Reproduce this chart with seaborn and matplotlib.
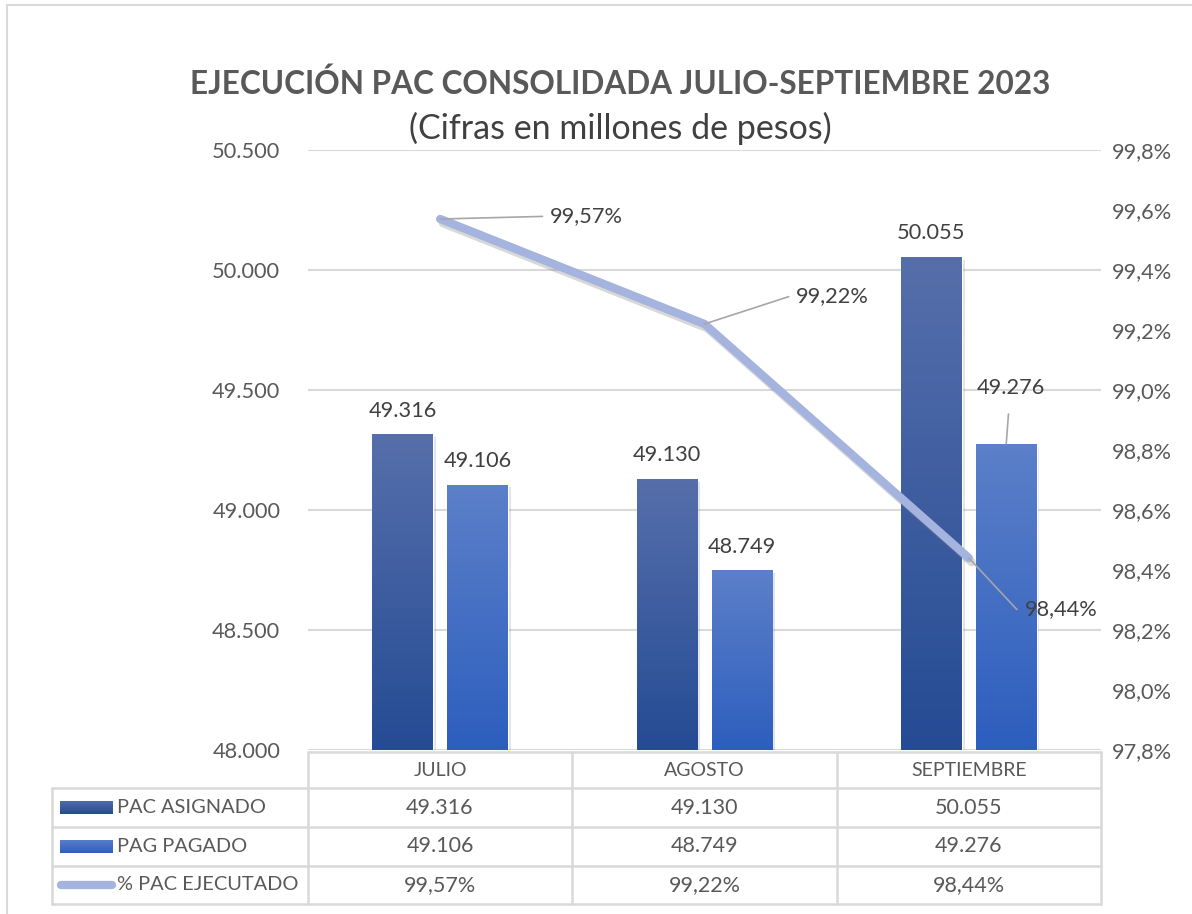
import numpy as np
import pandas as pd
import matplotlib
matplotlib.use("Agg")
import matplotlib.pyplot as plt
import matplotlib.patheffects as pe
from matplotlib.colors import LinearSegmentedColormap
from matplotlib.lines import Line2D
import seaborn as sns

# datos del grafico
meses = ["JULIO", "AGOSTO", "SEPTIEMBRE"]
series = ["PAC ASIGNADO", "PAG PAGADO"]
pac_asignado = [49316, 49130, 50055]
pag_pagado = [49106, 48749, 49276]
pct_ejecutado = [99.57, 99.22, 98.44]
ticks_izq = [48000, 48500, 49000, 49500, 50000, 50500]
ticks_der = [97.8, 98.0, 98.2, 98.4, 98.6, 98.8, 99.0, 99.2, 99.4, 99.6, 99.8]
titulo = "EJECUCIÓN PAC CONSOLIDADA JULIO-SEPTIEMBRE 2023"
subtitulo = "(Cifras en millones de pesos)"
fila_linea = "% PAC EJECUTADO"


def miles(v):
    return f"{v:,}".replace(",", ".")


def pct(v, d=2):
    return f"{v:.{d}f}%".replace(".", ",")


W, H = 1192, 914
GRIS = "#595959"
OSCURO = "#404040"
REJILLA = "#D9D9D9"
LINEA = "#A5B4DE"
grad_asig = ("#566FAB", "#254B94")
grad_pag = ("#5C80C9", "#2D5EBE")

sns.set_theme(style="white")
plt.rcParams["font.family"] = ["Lato", "DejaVu Sans"]


def fx(x):
    return x / W


def fy(y):
    return 1 - y / H


fig = plt.figure(figsize=(W / 100, H / 100), dpi=100)

# marco del area del grafico (solo arriba e izquierda se ven)
fig.add_artist(Line2D([fx(7), fx(7), 1], [0, fy(5), fy(5)], transform=fig.transFigure,
                      color=REJILLA, linewidth=1.5))

ax = fig.add_axes([fx(308), fy(750), fx(1101 - 308), 600 / H])

df = pd.DataFrame({
    "mes": meses * 2,
    "serie": [series[0]] * 3 + [series[1]] * 3,
    "valor": pac_asignado + pag_pagado,
})
sns.barplot(data=df, x="mes", y="valor", hue="serie", order=meses, hue_order=series,
            palette=[grad_asig[1], grad_pag[1]], saturation=1, width=0.566, gap=0.19,
            legend=False, ax=ax)

# degradado en las barras
for s, cont in enumerate(ax.containers):
    colores = [grad_asig, grad_pag][s]
    cmap = LinearSegmentedColormap.from_list("g", [colores[1], colores[0]])
    for patch in cont:
        x0 = patch.get_x()
        w = patch.get_width()
        h = patch.get_height()
        grad = np.linspace(1, 0, 256).reshape(-1, 1)
        patch.set_path_effects([pe.SimplePatchShadow(offset=(2, -2), alpha=0.12), pe.Normal()])
        im = ax.imshow(grad, extent=[x0, x0 + w, 48000, h], aspect="auto", cmap=cmap,
                       vmin=0, vmax=1, zorder=patch.get_zorder() + 0.1)
        im.set_clip_path(patch)

ax.set_ylim(48000, 50500)
ax.set_xlim(-0.5, 2.5)

# etiquetas de las barras
offsets = {
    (0, 0): (0, 17), (0, 1): (0, 17),
    (1, 0): (0, 17), (1, 1): (0, 17),
    (2, 0): (0, 17), (2, 1): (3, 40),
}
valores = [pac_asignado, pag_pagado]
for s, cont in enumerate(ax.containers):
    for i, bar in enumerate(cont):
        xc = bar.get_x() + bar.get_width() / 2
        v = valores[s][i]
        dx, dy = offsets[(i, s)]
        flecha = None
        if dy > 20:
            flecha = dict(arrowstyle="-", color="#A6A6A6", lw=1.2, shrinkA=9, shrinkB=0)
        ax.annotate(miles(v), xy=(xc, v), xytext=(dx, dy), textcoords="offset points",
                    ha="center", va="center", fontsize=15.7, color=OSCURO, arrowprops=flecha)

ax.set_yticks(ticks_izq)
ax.set_yticklabels([miles(t) for t in ticks_izq])
ax.tick_params(axis="y", length=0, pad=20, labelsize=15.7, labelcolor=GRIS)
ax.set_xticks([])
ax.set_xlabel("")
ax.set_ylabel("")
ax.set_axisbelow(True)
ax.yaxis.grid(True, color=REJILLA, linewidth=1.5)
for sp in ax.spines.values():
    sp.set_visible(False)

# eje secundario con la linea
ax2 = ax.twinx()
sns.pointplot(x=meses, y=pct_ejecutado, order=meses, color=LINEA, markers="",
              linewidth=6, ax=ax2)
for ln in ax2.lines:
    ln.set_solid_capstyle("round")
    ln.set_path_effects([pe.SimpleLineShadow(offset=(2, -3), shadow_color="#7F7F7F", alpha=0.3),
                         pe.Normal()])
ax2.set_ylim(97.8, 99.8)
ax2.set_xlim(-0.5, 2.5)
ax2.set_yticks(ticks_der)
ax2.set_yticklabels([pct(t, 1) for t in ticks_der])
ax2.tick_params(axis="y", length=0, pad=8, labelsize=15.7, labelcolor=GRIS)
ax2.set_xticks([])
ax2.set_xlabel("")
ax2.set_ylabel("")
for sp in ax2.spines.values():
    sp.set_visible(False)

pos_linea = [(79, 2), (66, 20), (40, -37)]
conexiones = ["arc3", "angle,angleA=0,angleB=18,rad=0", "angle,angleA=0,angleB=-47,rad=0"]
for i, v in enumerate(pct_ejecutado):
    ax2.annotate(pct(v), xy=(i, v), xytext=pos_linea[i], textcoords="offset points",
                 ha="left", va="center", fontsize=15.7, color=OSCURO,
                 arrowprops=dict(arrowstyle="-", color="#A6A6A6", lw=1.2, shrinkA=3, shrinkB=0,
                                 relpos=(0, 0.5), connectionstyle=conexiones[i]))

# titulo
fig.text(fx(620), fy(84), titulo, ha="center", va="center", fontsize=22.7, fontweight="bold", color=GRIS)
fig.text(fx(620), fy(128), subtitulo, ha="center", va="center", fontsize=24.5, color=OSCURO)

# tabla de datos
def hline(y, x0, x1):
    fig.add_artist(Line2D([fx(x0), fx(x1)], [fy(y), fy(y)], transform=fig.transFigure,
                          color=REJILLA, linewidth=1.8))


def vline(x, y0, y1):
    fig.add_artist(Line2D([fx(x), fx(x)], [fy(y0), fy(y1)], transform=fig.transFigure,
                          color=REJILLA, linewidth=1.8))


cols = [308, 572, 837, 1101]
filas = [752, 788, 827, 866, 904]
hline(filas[0], cols[0], cols[-1])
for y in filas[1:]:
    hline(y, 52, cols[-1])
vline(52, filas[1], filas[-1])
for x in cols:
    vline(x, filas[0], filas[-1])

for j, mes in enumerate(meses):
    xc = (cols[j] + cols[j + 1]) / 2
    fig.text(fx(xc), fy((filas[0] + filas[1]) / 2), mes, ha="center", va="center",
             fontsize=14, color=GRIS)
    textos = [miles(pac_asignado[j]), miles(pag_pagado[j]), pct(pct_ejecutado[j])]
    for r, t in enumerate(textos):
        fig.text(fx(xc), fy((filas[r + 1] + filas[r + 2]) / 2), t, ha="center", va="center",
                 fontsize=15.5, color=GRIS)

etiquetas = series + [fila_linea]
for r, et in enumerate(etiquetas):
    yc = (filas[r + 1] + filas[r + 2]) / 2
    fig.text(fx(117), fy(yc), et, ha="left", va="center", fontsize=14.4, color=GRIS)

# claves de la leyenda
for r, colores in enumerate([grad_asig, grad_pag]):
    yc = (filas[r + 1] + filas[r + 2]) / 2
    kax = fig.add_axes([fx(60), fy(yc + 7), fx(53), 14 / H])
    cmap = LinearSegmentedColormap.from_list("k", [colores[1], colores[0]])
    kax.imshow(np.linspace(1, 0, 64).reshape(-1, 1), aspect="auto", cmap=cmap, vmin=0, vmax=1)
    kax.axis("off")
yc = (filas[3] + filas[4]) / 2
fig.add_artist(Line2D([fx(61), fx(112)], [fy(yc), fy(yc)], transform=fig.transFigure,
                      color=LINEA, linewidth=6, solid_capstyle="round"))

fig.savefig("out.png", dpi=100)
